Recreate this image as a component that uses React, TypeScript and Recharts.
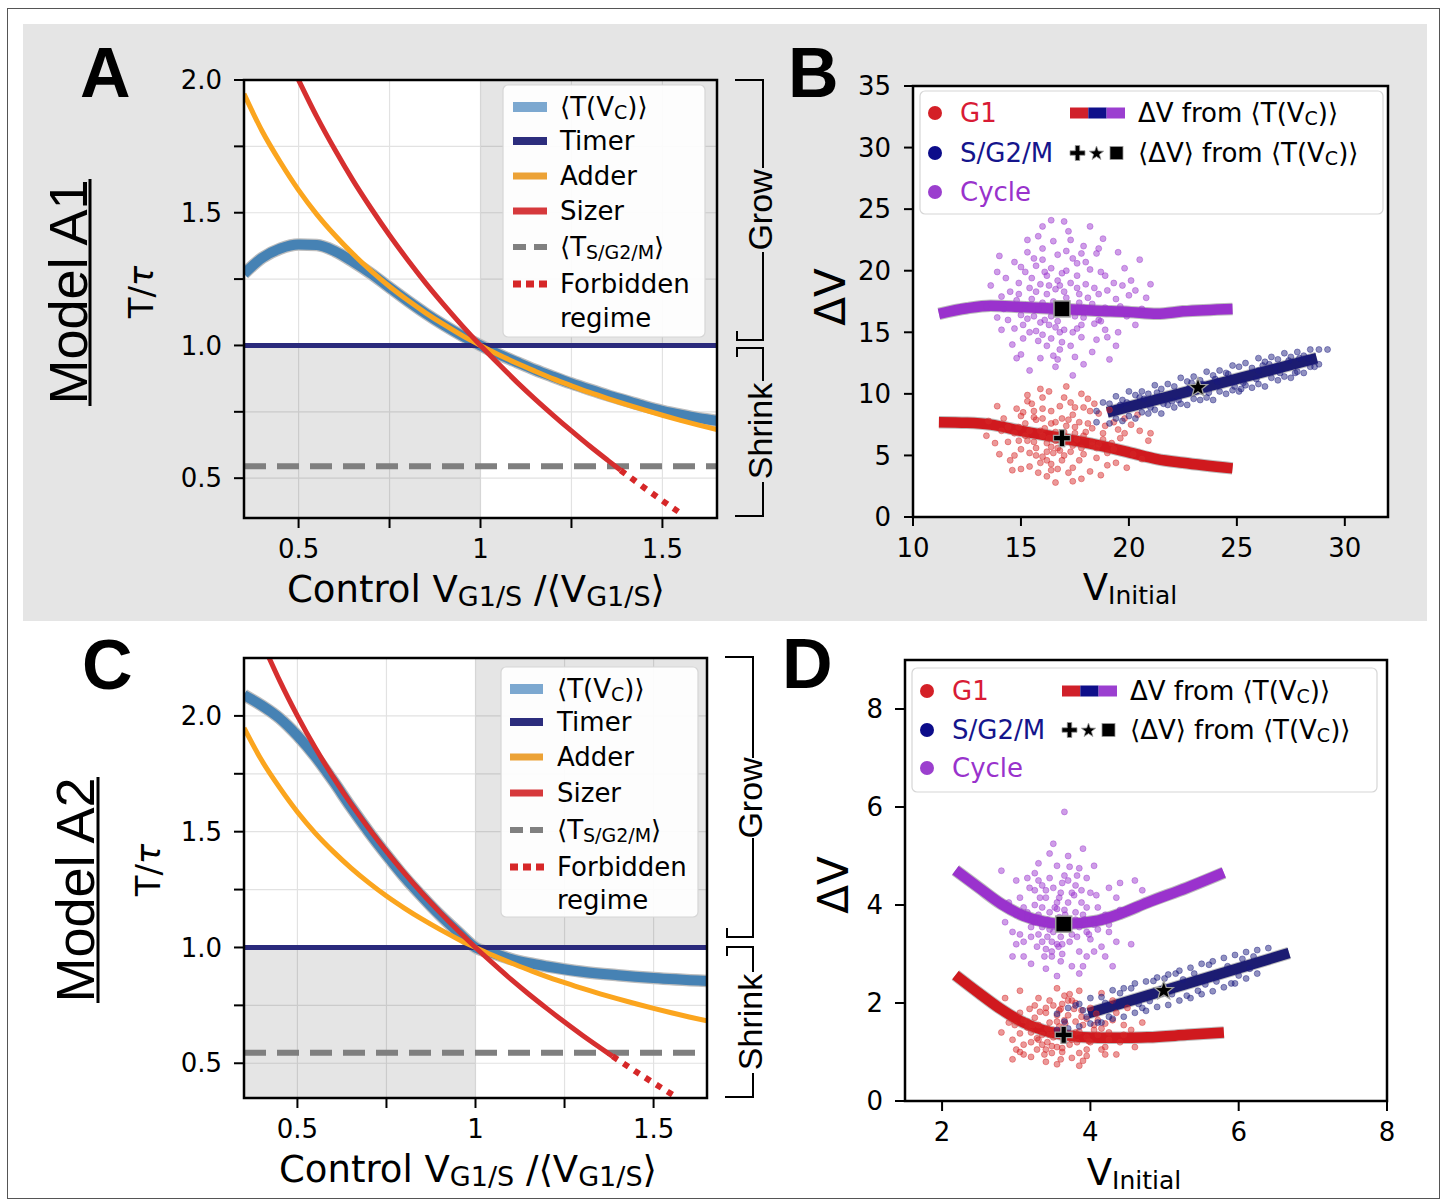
import React from 'react';
import { ComposedChart, Line, Scatter, XAxis, YAxis, CartesianGrid, ReferenceArea } from 'recharts';

type Pt = [number, number];

const DEJAVU = "'DejaVu Sans', sans-serif";
const ARIAL = "'Liberation Sans', Arial, sans-serif";

// ---------- ticks ----------
const T_X_TICKS = [0.5, 0.75, 1, 1.25, 1.5];
const T_Y_TICKS = [0.5, 0.75, 1, 1.25, 1.5, 1.75, 2];
const T_X_LABELS: Record<string, string> = { '0.5': '0.5', '1': '1', '1.5': '1.5' };
const T_Y_LABELS: Record<string, string> = { '0.5': '0.5', '1': '1.0', '1.5': '1.5', '2': '2.0' };
const B_X_TICKS = [10, 15, 20, 25, 30];
const B_Y_TICKS = [0, 5, 10, 15, 20, 25, 30, 35];
const D_X_TICKS = [2, 4, 6, 8];
const D_Y_TICKS = [0, 2, 4, 6, 8];

// ---------- panels A / C : T/tau vs control ----------
const TIMER: Pt[] = [[0.35, 1], [1.65, 1]];
const T_SG2M: Pt[] = [[0.35, 0.545], [1.65, 0.545]];
const ADDER: Pt[] = [
  [0.35, 1.948], [0.4, 1.807], [0.45, 1.69], [0.5, 1.585], [0.55, 1.494], [0.6, 1.415], [0.65, 1.344],
  [0.7, 1.28], [0.75, 1.222], [0.8, 1.17], [0.85, 1.122], [0.9, 1.078], [0.95, 1.037], [1.0, 1.0],
  [1.05, 0.965], [1.1, 0.933], [1.15, 0.903], [1.2, 0.874], [1.25, 0.848], [1.3, 0.823], [1.35, 0.8],
  [1.4, 0.778], [1.45, 0.757], [1.5, 0.737], [1.55, 0.718], [1.6, 0.7], [1.65, 0.683],
];
const A_TVC: Pt[] = [
  [0.35, 1.27], [0.4, 1.33], [0.45, 1.365], [0.5, 1.38], [0.55, 1.378], [0.6, 1.355], [0.65, 1.315],
  [0.7, 1.27], [0.75, 1.218], [0.8, 1.168], [0.85, 1.12], [0.9, 1.076], [0.95, 1.036], [1.0, 1.0],
  [1.05, 0.967], [1.1, 0.937], [1.15, 0.908], [1.2, 0.882], [1.25, 0.857], [1.3, 0.834], [1.35, 0.812],
  [1.4, 0.792], [1.45, 0.772], [1.5, 0.754], [1.55, 0.739], [1.6, 0.726], [1.65, 0.716],
];
const A_SIZER: Pt[] = [
  [0.5, 2.0], [0.55, 1.862], [0.6, 1.737], [0.65, 1.621], [0.7, 1.515], [0.75, 1.415], [0.8, 1.322],
  [0.85, 1.234], [0.9, 1.152], [0.95, 1.074], [1.0, 1.0], [1.05, 0.93], [1.1, 0.862], [1.15, 0.798],
  [1.2, 0.737], [1.25, 0.678], [1.3, 0.621], [1.35, 0.567], [1.385, 0.53],
];
const A_FORBIDDEN: Pt[] = [[1.385, 0.53], [1.45, 0.464], [1.5, 0.415], [1.55, 0.368]];

const C_TVC: Pt[] = [
  [0.35, 2.09], [0.4, 2.045], [0.45, 1.99], [0.5, 1.915], [0.55, 1.825], [0.6, 1.72], [0.65, 1.607],
  [0.7, 1.5], [0.75, 1.4], [0.8, 1.305], [0.85, 1.22], [0.9, 1.14], [0.95, 1.068], [1.0, 1.0],
  [1.05, 0.975], [1.1, 0.95], [1.15, 0.932], [1.2, 0.918], [1.3, 0.895], [1.4, 0.88], [1.5, 0.868],
  [1.65, 0.855],
];
const C_SIZER: Pt[] = [
  [0.42, 2.252], [0.45, 2.152], [0.5, 2.0], [0.55, 1.862], [0.6, 1.737], [0.65, 1.621], [0.7, 1.515],
  [0.75, 1.415], [0.8, 1.322], [0.85, 1.234], [0.9, 1.152], [0.95, 1.074], [1.0, 1.0], [1.05, 0.93],
  [1.1, 0.862], [1.15, 0.798], [1.2, 0.737], [1.25, 0.678], [1.3, 0.621], [1.35, 0.567], [1.385, 0.53],
];
const C_FORBIDDEN: Pt[] = [[1.385, 0.53], [1.45, 0.464], [1.5, 0.415], [1.56, 0.358]];

// ---------- panel B : dV vs V_initial ----------
const B_CYCLE_LINE: Pt[] = [
  [11.2, 16.5], [12.5, 16.95], [13.6, 17.15], [15.0, 17.05], [16.9, 16.9], [18.5, 16.75], [20.0, 16.65],
  [21.3, 16.5], [22.5, 16.7], [24.8, 16.9],
];
const B_G1_LINE: Pt[] = [
  [11.2, 7.7], [12.5, 7.65], [13.6, 7.5], [15.0, 7.0], [16.9, 6.4], [18.5, 5.85], [20.0, 5.25],
  [21.3, 4.7], [22.5, 4.4], [24.8, 3.95],
];
const B_SG2M_LINE: Pt[] = [[19.0, 8.5], [28.7, 12.9]];
const B_PLUS: Pt[] = [[16.9, 6.4]];
const B_STAR: Pt[] = [[23.2, 10.5]];
const B_SQUARE: Pt[] = [[16.9, 16.9]];
const B_CYCLE_PTS: Pt[] = [
  [16.9, 17.2], [16.2, 18.1], [17.5, 16.3], [15.8, 16.9], [18.1, 17.8], [16.6, 15.4], [17.3, 19.0], [15.4, 18.6], [18.6, 16.0], [16.0, 14.8],
  [17.8, 14.6], [15.1, 15.6], [19.0, 18.4], [16.4, 20.2], [17.6, 20.6], [14.8, 17.6], [18.9, 15.2], [16.8, 13.6], [15.6, 21.0], [17.1, 21.6],
  [14.3, 19.4], [19.6, 17.1], [15.9, 12.9], [18.3, 13.4], [13.9, 16.2], [20.1, 19.2], [16.5, 22.4], [17.9, 22.0], [14.6, 14.0], [19.4, 13.9],
  [15.2, 19.9], [18.7, 19.9], [16.1, 16.0], [17.0, 18.3], [16.7, 19.2], [15.5, 17.7], [18.0, 18.9], [17.4, 15.0], [16.3, 17.0], [17.7, 17.4],
  [15.0, 16.4], [18.4, 15.7], [16.9, 14.2], [15.7, 15.1], [19.2, 16.6], [14.5, 18.3], [17.2, 23.2], [16.0, 23.6], [15.3, 22.5], [18.5, 21.4],
  [20.5, 20.9], [13.6, 18.8], [14.1, 15.2], [20.3, 15.6], [16.6, 12.2], [17.9, 12.4], [15.0, 13.2], [19.8, 20.2], [13.4, 17.1], [20.8, 17.8],
  [16.4, 24.1], [18.2, 23.6], [15.4, 11.9], [17.4, 11.5], [19.1, 12.8], [14.0, 21.2], [21.0, 18.9], [14.7, 20.7], [18.8, 22.6], [16.8, 16.6],
  [17.6, 18.6], [16.2, 19.6], [15.9, 18.9], [17.1, 20.0], [18.2, 16.8], [15.3, 16.1], [16.7, 15.9], [17.3, 13.9], [19.3, 19.0], [14.9, 19.0],
  [15.7, 20.4], [18.6, 18.1], [16.0, 21.8], [17.8, 15.6], [14.2, 16.9], [20.0, 18.0], [16.5, 13.1], [18.0, 20.7], [15.1, 14.5], [19.5, 15.0],
  [16.5, 17.5], [17.2, 16.6], [16.0, 17.4], [17.9, 16.2], [16.8, 18.8], [15.6, 16.3], [18.4, 18.6], [16.3, 15.6], [17.6, 19.6], [15.2, 17.2],
  [17.0, 15.2], [18.9, 17.0], [16.1, 19.9], [15.8, 14.3], [18.5, 14.4], [17.4, 21.0], [14.9, 18.1], [19.7, 18.8], [16.7, 21.3], [15.5, 19.4],
  [17.9, 17.0], [16.4, 16.3], [17.1, 17.8], [15.9, 15.8], [18.7, 15.9], [16.9, 19.8], [15.0, 20.3], [18.2, 20.1], [17.5, 13.0], [16.2, 13.9],
  [19.9, 16.3], [14.4, 16.0], [16.6, 18.5], [17.7, 18.1], [15.4, 15.0], [18.9, 19.6], [16.0, 20.9], [17.3, 22.5], [14.7, 15.3], [19.4, 17.7],
  [16.8, 15.0], [17.4, 16.9], [15.7, 18.3], [18.3, 17.3], [16.4, 14.5], [17.8, 21.4], [15.3, 21.5], [19.0, 14.6], [14.1, 17.9], [20.3, 18.4],
  [16.7, 12.8], [17.0, 24.0], [15.8, 22.8], [18.6, 21.8], [13.9, 19.9], [20.6, 16.9], [14.8, 12.9], [19.5, 21.5], [16.3, 18.8], [17.6, 15.3],
];
const B_G1_PTS: Pt[] = [
  [16.8, 6.5], [16.1, 7.2], [17.4, 5.8], [15.6, 6.1], [18.0, 6.9], [16.5, 5.2], [17.2, 7.9], [15.2, 7.6], [18.5, 5.6], [16.0, 4.9],
  [17.7, 4.6], [15.0, 5.5], [18.9, 7.4], [16.4, 8.6], [17.5, 8.9], [14.7, 6.8], [19.0, 5.2], [16.7, 3.9], [15.5, 9.2], [17.0, 9.7],
  [14.2, 8.0], [19.6, 6.4], [15.8, 3.6], [18.2, 3.7], [13.8, 6.0], [20.1, 7.5], [16.3, 10.2], [17.8, 10.0], [14.5, 4.6], [19.4, 4.4],
  [15.1, 8.5], [18.6, 8.4], [16.2, 6.0], [17.0, 6.9], [16.6, 7.7], [15.4, 7.0], [18.1, 7.6], [17.3, 5.3], [16.3, 6.4], [17.6, 6.3],
  [14.9, 6.2], [18.3, 5.8], [16.9, 4.6], [15.7, 5.0], [19.2, 6.0], [14.4, 7.3], [17.1, 10.6], [15.9, 10.4], [15.3, 9.9], [18.4, 9.2],
  [20.4, 8.3], [13.5, 7.8], [14.0, 5.1], [20.2, 5.1], [16.6, 2.8], [17.8, 3.1], [15.0, 3.9], [19.8, 8.0], [13.4, 6.6], [20.9, 6.2],
  [16.0, 8.0], [17.5, 7.3], [15.6, 8.1], [18.8, 6.8], [16.7, 5.6], [17.9, 5.1], [15.2, 6.6], [16.4, 4.3], [19.3, 7.7], [14.8, 8.8],
  [20.6, 4.7], [21.0, 6.8], [13.9, 9.0], [18.7, 3.4], [16.2, 3.3], [17.4, 2.9], [19.9, 4.0], [14.6, 3.8], [18.1, 9.6], [15.4, 4.1],
  [16.6, 6.9], [17.1, 6.1], [16.0, 6.6], [17.8, 5.6], [16.4, 7.6], [15.7, 5.6], [18.3, 7.2], [16.2, 5.3], [17.4, 8.3], [15.3, 6.2],
  [17.0, 5.0], [18.8, 6.3], [16.0, 8.8], [15.9, 4.4], [18.5, 4.8], [17.3, 9.3], [14.9, 7.3], [19.5, 7.1], [16.8, 9.0], [15.6, 8.6],
  [17.9, 6.6], [16.4, 5.7], [17.1, 7.4], [15.9, 7.0], [18.6, 5.9], [16.9, 8.0], [15.0, 8.2], [18.2, 8.6], [17.4, 4.0], [16.2, 4.6],
  [19.8, 6.8], [14.4, 6.1], [16.6, 6.2], [17.7, 7.7], [15.4, 5.2], [19.1, 8.7], [16.0, 9.7], [17.2, 3.6], [14.7, 5.0], [19.3, 5.5],
  [16.8, 5.4], [17.5, 6.8], [15.7, 7.9], [18.3, 6.1], [16.4, 3.8], [17.9, 8.9], [15.3, 9.4], [19.0, 4.2], [14.1, 7.0], [20.5, 7.0],
];
const B_SG2M_PTS: Pt[] = [
  [18.5, 8.6], [18.5, 7.7], [18.8, 9.3], [19.1, 7.6], [19.1, 9.2], [19.4, 9.8], [19.4, 8.0], [19.7, 9.5], [19.7, 7.8], [20.0, 10.2],
  [20.0, 8.2], [20.3, 9.9], [20.3, 8.0], [20.6, 10.2], [20.6, 8.5], [20.9, 10.0], [20.9, 8.4], [21.2, 10.7], [21.2, 8.7], [21.5, 10.4],
  [21.5, 8.4], [21.8, 10.8], [21.8, 9.1], [22.1, 10.6], [22.1, 8.9], [22.4, 11.3], [22.4, 9.2], [22.7, 11.0], [22.7, 9.1], [23.0, 11.4],
  [23.0, 9.6], [23.3, 11.1], [23.3, 9.5], [23.6, 11.8], [23.6, 9.7], [23.9, 11.5], [23.9, 9.5], [24.2, 11.9], [24.2, 10.2], [24.5, 11.7],
  [24.5, 10.0], [24.8, 12.3], [24.8, 10.3], [25.1, 12.2], [25.1, 10.2], [25.4, 12.5], [25.4, 10.7], [25.7, 12.1], [25.7, 10.5], [26.0, 12.9],
  [26.0, 10.8], [26.3, 12.6], [26.3, 10.6], [26.6, 13.0], [26.6, 11.3], [26.9, 12.8], [26.9, 11.1], [27.2, 13.3], [27.2, 11.4], [27.5, 13.0],
  [27.5, 11.3], [27.8, 13.4], [27.8, 11.8], [28.1, 13.1], [28.1, 11.7], [28.4, 13.6], [28.4, 12.2], [28.8, 13.6], [28.8, 12.4], [29.2, 13.6],
  [20.5, 9.7], [21.3, 10.1], [22.0, 9.4], [22.9, 10.9], [23.7, 10.1], [24.6, 11.6], [25.3, 10.9], [26.2, 12.3], [27.0, 11.7], [27.9, 12.9],
  [19.6, 9.1], [21.0, 8.9], [24.0, 11.2], [25.9, 11.2], [27.4, 12.7], [19.9, 9.3], [21.6, 9.2], [22.3, 9.5], [23.4, 10.8], [24.1, 11.0],
  [25.2, 10.4], [26.0, 11.9], [26.8, 12.2], [27.7, 11.7], [28.6, 12.2], [20.7, 9.6], [22.8, 10.5], [24.9, 10.6], [26.5, 12.4], [28.3, 12.9],
];

// ---------- panel D ----------
const D_CYCLE_LINE: Pt[] = [
  [2.18, 4.71], [2.5, 4.35], [2.8, 4.02], [3.1, 3.78], [3.4, 3.65], [3.64, 3.61], [4.1, 3.68],
  [4.4, 3.82], [4.77, 4.05], [5.3, 4.35], [5.8, 4.66],
];
const D_G1_LINE: Pt[] = [
  [2.18, 2.57], [2.5, 2.2], [2.8, 1.87], [3.1, 1.6], [3.4, 1.43], [3.64, 1.35], [4.1, 1.29],
  [4.5, 1.29], [4.77, 1.3], [5.3, 1.35], [5.8, 1.4],
];
const D_SG2M_LINE: Pt[] = [[3.97, 1.79], [6.68, 3.02]];
const D_PLUS: Pt[] = [[3.64, 1.35]];
const D_STAR: Pt[] = [[4.99, 2.25]];
const D_SQUARE: Pt[] = [[3.64, 3.61]];
const D_CYCLE_PTS: Pt[] = [
  [3.6, 3.65], [3.45, 3.85], [3.75, 3.4], [3.35, 3.55], [3.9, 3.8], [3.55, 3.2], [3.7, 4.05], [3.25, 4.0], [4.0, 3.3], [3.4, 3.1],
  [3.85, 3.05], [3.2, 3.35], [4.1, 3.95], [3.5, 4.35], [3.8, 4.4], [3.15, 3.75], [4.15, 3.15], [3.6, 2.85], [3.3, 4.5], [3.65, 4.6],
  [3.05, 4.15], [4.25, 3.6], [3.4, 2.7], [3.9, 2.75], [2.95, 3.45], [4.35, 4.15], [3.55, 4.8], [3.85, 4.75], [3.1, 2.95], [4.2, 2.95],
  [3.25, 4.3], [4.0, 4.25], [3.45, 3.5], [3.65, 3.9], [3.58, 4.15], [3.3, 3.8], [3.88, 4.05], [3.72, 3.25], [3.5, 3.6], [3.8, 3.7],
  [3.2, 3.55], [3.95, 3.45], [3.62, 3.0], [3.35, 3.25], [4.1, 3.5], [3.1, 3.95], [3.7, 5.0], [3.45, 5.05], [3.3, 4.85], [3.95, 4.55],
  [4.4, 4.45], [2.9, 4.05], [3.0, 3.2], [4.35, 3.25], [3.55, 2.55], [3.85, 2.6], [3.2, 2.8], [4.25, 4.35], [2.85, 3.65], [4.5, 3.85],
  [3.5, 5.25], [3.9, 5.15], [3.65, 5.9], [4.6, 4.5], [2.8, 4.7], [3.15, 4.55], [4.05, 4.8], [4.55, 3.2], [2.95, 2.95], [4.3, 2.75],
  [3.75, 4.25], [3.4, 4.15], [3.52, 3.95], [3.85, 3.55], [3.25, 3.65], [4.05, 3.7], [3.6, 3.35], [3.35, 4.4], [4.7, 4.3], [3.0, 4.5],
  [3.58, 3.75], [3.68, 3.52], [3.42, 3.7], [3.82, 3.35], [3.55, 4.05], [3.3, 3.4], [3.95, 3.95], [3.48, 3.25], [3.78, 4.2], [3.22, 3.72],
  [3.62, 3.2], [4.05, 3.6], [3.4, 4.3], [3.38, 2.95], [3.95, 2.95], [3.7, 4.5], [3.15, 3.85], [4.2, 3.8], [3.62, 4.45], [3.32, 4.15],
  [3.85, 3.6], [3.5, 3.45], [3.66, 3.8], [3.42, 3.35], [3.98, 3.4], [3.6, 4.25], [3.18, 4.35], [3.88, 4.3], [3.75, 2.75], [3.48, 2.95],
  [4.25, 3.45], [3.05, 3.4], [3.55, 3.92], [3.8, 3.85], [3.28, 3.15], [4.08, 4.2], [3.45, 4.55], [3.72, 4.78], [3.1, 3.25], [4.15, 3.75],
  [3.57, 3.15], [3.72, 3.58], [3.35, 3.95], [3.92, 3.7], [3.48, 3.05], [3.82, 4.6], [3.25, 4.65], [4.05, 3.05], [3.0, 3.8], [4.4, 3.9],
];
const D_G1_PTS: Pt[] = [
  [3.6, 1.45], [3.45, 1.6], [3.75, 1.25], [3.35, 1.35], [3.9, 1.55], [3.55, 1.1], [3.7, 1.75], [3.25, 1.7], [4.0, 1.2], [3.4, 1.05],
  [3.85, 0.98], [3.2, 1.2], [4.1, 1.65], [3.5, 1.95], [3.8, 2.0], [3.15, 1.5], [4.15, 1.05], [3.6, 0.85], [3.3, 2.1], [3.65, 2.15],
  [3.05, 1.8], [4.25, 1.4], [3.4, 0.8], [3.9, 0.82], [2.95, 1.25], [4.35, 1.8], [3.55, 2.3], [3.85, 2.25], [3.1, 0.95], [4.2, 0.95],
  [3.25, 1.95], [4.0, 1.9], [3.45, 1.35], [3.65, 1.65], [3.58, 1.85], [3.3, 1.55], [3.88, 1.72], [3.72, 1.15], [3.5, 1.45], [3.8, 1.4],
  [3.2, 1.4], [3.95, 1.3], [3.62, 1.0], [3.35, 1.15], [4.1, 1.35], [3.1, 1.65], [4.4, 1.2], [2.9, 1.6], [3.0, 1.05], [4.45, 1.55],
  [3.55, 0.75], [3.85, 0.72], [3.2, 0.9], [4.3, 2.05], [2.8, 1.4], [4.55, 1.45], [4.6, 1.1], [2.85, 2.1], [4.7, 1.6], [3.05, 2.25],
  [4.15, 2.2], [4.5, 1.9], [3.75, 2.05], [3.4, 1.8], [3.95, 1.05], [3.28, 1.28], [4.05, 1.55], [3.68, 1.3], [2.95, 0.85], [4.35, 0.95],
  [3.58, 1.52], [3.68, 1.32], [3.42, 1.48], [3.82, 1.2], [3.55, 1.75], [3.3, 1.25], [3.95, 1.68], [3.48, 1.12], [3.78, 1.88], [3.22, 1.55],
  [3.62, 1.08], [4.05, 1.45], [3.4, 1.9], [3.38, 0.95], [3.95, 0.92], [3.7, 2.05], [3.15, 1.62], [4.2, 1.58], [3.62, 1.98], [3.32, 1.82],
  [3.85, 1.42], [3.5, 1.3], [3.66, 1.58], [3.42, 1.2], [3.98, 1.22], [3.6, 1.88], [3.18, 1.88], [3.88, 1.85], [3.75, 0.88], [3.48, 0.98],
  [4.25, 1.25], [3.05, 1.38], [3.55, 1.62], [3.8, 1.62], [3.28, 1.05], [4.08, 1.78], [3.45, 2.05], [3.72, 2.18], [3.1, 1.15], [4.15, 1.48],
  [4.3, 1.65], [4.45, 1.35], [2.98, 1.55], [4.2, 1.1], [3.05, 1.0],
];
const D_SG2M_PTS: Pt[] = [
  [3.55, 1.78], [3.55, 1.45], [3.7, 1.9], [3.7, 1.48], [3.85, 1.98], [3.85, 1.52], [4.0, 2.1], [4.0, 1.58], [4.15, 2.12], [4.15, 1.6],
  [4.3, 2.26], [4.3, 1.68], [4.45, 2.3], [4.45, 1.72], [4.6, 2.4], [4.6, 1.8], [4.75, 2.44], [4.75, 1.84], [4.9, 2.52], [4.9, 1.92],
  [5.05, 2.58], [5.05, 1.96], [5.2, 2.66], [5.2, 2.05], [5.35, 2.72], [5.35, 2.1], [5.5, 2.8], [5.5, 2.18], [5.65, 2.85], [5.65, 2.24],
  [5.8, 2.92], [5.8, 2.32], [5.95, 2.98], [5.95, 2.4], [6.1, 3.04], [6.1, 2.5], [6.25, 3.08], [6.25, 2.6], [6.4, 3.12],
  [3.8, 1.95], [4.1, 1.6], [4.4, 2.2], [4.7, 1.9], [5.0, 2.5], [5.3, 2.15], [5.6, 2.78], [5.9, 2.4], [6.2, 2.95], [4.25, 1.72],
  [4.85, 2.45], [5.45, 2.25], [6.05, 2.9], [5.15, 2.6], [4.55, 2.3], [3.65, 1.62], [3.95, 1.72], [4.35, 1.98], [4.8, 2.04], [5.25, 2.48],
  [5.7, 2.44], [6.0, 2.56], [4.65, 1.98], [5.4, 2.6], [5.85, 2.75], [4.2, 2.0], [5.1, 2.18], [5.55, 2.38], [6.15, 2.7], [3.9, 1.85],
];

// ---------- colours ----------
const COL_BLUE = '#4682b4';
const COL_TIMER = '#2a2a7c';
const COL_ADDER = '#fba51e';
const COL_SIZER = '#d62f2f';
const COL_GRAY = '#7f7f7f';
const COL_RED = '#d0191e';
const COL_NAVY = '#1c1c72';
const COL_PURPLE = '#9a32cd';
const COL_HALO = '#bdbdbd';

// plot rectangles [left, top, width, height] in page px
const RA: [number, number, number, number] = [244, 80, 473, 438];
const RB: [number, number, number, number] = [913, 86, 475, 431];
const RC: [number, number, number, number] = [244, 658, 463, 440];
const RD: [number, number, number, number] = [905, 660, 482, 441];
const PLOTS = [RA, RB, RC, RD];

const xy = (arr: Pt[]) => arr.map(([x, y]) => ({ x, y }));

const dotShape = (color: string) => (p: any) => (
  <circle cx={p.cx} cy={p.cy} r={3} fill={color} fillOpacity={0.48} stroke={color} strokeOpacity={0.6} strokeWidth={0.7} />
);
const squareShape = (s: number) => (p: any) => (
  <rect x={p.cx - s / 2} y={p.cy - s / 2} width={s} height={s} fill="#000" stroke="#a0a0a0" strokeWidth={1.5} />
);
const plusPath = (cx: number, cy: number, s: number, t: number) => {
  const a = (s - t) / 2;
  return `M${cx - t / 2},${cy - s / 2} h${t} v${a} h${a} v${t} h${-a} v${a} h${-t} v${-a} h${-a} v${-t} h${a} z`;
};
const plusShape = (s: number, t: number) => (p: any) => (
  <path d={plusPath(p.cx, p.cy, s, t)} fill="#000" stroke="#a0a0a0" strokeWidth={1.3} />
);
const starPoints = (cx: number, cy: number, R: number, r: number) => {
  const pts: string[] = [];
  for (let i = 0; i < 10; i++) {
    const ang = -Math.PI / 2 + (i * Math.PI) / 5;
    const rad = i % 2 === 0 ? R : r;
    pts.push(`${(cx + rad * Math.cos(ang)).toFixed(2)},${(cy + rad * Math.sin(ang)).toFixed(2)}`);
  }
  return pts.join(' ');
};
const starShape = (R: number) => (p: any) => (
  <polygon points={starPoints(p.cx, p.cy, R, R * 0.42)} fill="#000" stroke="#a0a0a0" strokeWidth={1.3} />
);

const L = (data: Pt[], stroke: string, width: number, extra: any = {}) => (
  <Line
    data={xy(data)}
    dataKey="y"
    type="monotone"
    stroke={stroke}
    strokeWidth={width}
    dot={false}
    activeDot={false}
    isAnimationActive={false}
    strokeLinejoin="round"
    {...extra}
  />
);

function Panel(props: any) {
  const { rect, xDomain, yDomain, xTicks, yTicks, xFmt, yFmt, tickSize, xMargin, yMargin, grid, children } = props;
  const [px, py, pw, ph] = rect;
  const tickStyle = { fontSize: 26, fill: '#000', fontFamily: DEJAVU };
  return (
    <div style={{ position: 'absolute', left: px - 90, top: py - 22 }}>
      <ComposedChart width={pw + 106} height={ph + 82} margin={{ top: 22, right: 16, bottom: 0, left: 30 }}>
        {grid ? <CartesianGrid stroke="#e2e2e2" strokeWidth={1.2} /> : null}
        <XAxis
          type="number"
          dataKey="x"
          domain={xDomain}
          ticks={xTicks}
          interval={0}
          allowDataOverflow
          tickFormatter={xFmt}
          height={60}
          tickSize={tickSize}
          tickMargin={xMargin}
          axisLine={false}
          tickLine={{ stroke: '#000', strokeWidth: 2 }}
          tick={tickStyle}
        />
        <YAxis
          type="number"
          dataKey="y"
          domain={yDomain}
          ticks={yTicks}
          interval={0}
          allowDataOverflow
          tickFormatter={yFmt}
          width={60}
          tickSize={tickSize}
          tickMargin={yMargin}
          axisLine={false}
          tickLine={{ stroke: '#000', strokeWidth: 2 }}
          tick={tickStyle}
        />
        {children}
      </ComposedChart>
    </div>
  );
}

const fmtTX = (v: number) => T_X_LABELS[String(v)] ?? '';
const fmtTY = (v: number) => T_Y_LABELS[String(v)] ?? '';
const fmtNum = (v: number) => String(v);

function TimePanel({ rect, yTop, tvc, sizer, forbidden }: any) {
  return (
    <Panel rect={rect} xDomain={[0.35, 1.65]} yDomain={[0.35, yTop]} xTicks={T_X_TICKS} yTicks={T_Y_TICKS}
      xFmt={fmtTX} yFmt={fmtTY} tickSize={10} xMargin={12} yMargin={12} grid>
      <ReferenceArea x1={0.35} x2={1} y1={0.35} y2={1} fill="#000" fillOpacity={0.1} stroke="none" ifOverflow="hidden" />
      <ReferenceArea x1={1} x2={1.65} y1={1} y2={yTop} fill="#000" fillOpacity={0.1} stroke="none" ifOverflow="hidden" />
      {L(tvc, COL_HALO, 12.5)}
      {L(tvc, COL_BLUE, 10)}
      {L(T_SG2M, COL_GRAY, 6, { type: 'linear', strokeDasharray: '22 11' })}
      {L(TIMER, COL_TIMER, 5, { type: 'linear' })}
      {L(ADDER, COL_ADDER, 5)}
      {L(sizer, COL_SIZER, 5)}
      {L(forbidden, '#d62728', 6, { type: 'linear', strokeDasharray: '6 7' })}
    </Panel>
  );
}

function VolPanel({ rect, xDomain, yDomain, xTicks, yTicks, tickSize, xMargin, yMargin, cyc, g1, sg, cycL, g1L, sgL, plus, star, square }: any) {
  return (
    <Panel rect={rect} xDomain={xDomain} yDomain={yDomain} xTicks={xTicks} yTicks={yTicks}
      xFmt={fmtNum} yFmt={fmtNum} tickSize={tickSize} xMargin={xMargin} yMargin={yMargin} grid={false}>
      <Scatter data={xy(cyc)} shape={dotShape('#9932cc')} isAnimationActive={false} />
      <Scatter data={xy(g1)} shape={dotShape('#d62728')} isAnimationActive={false} />
      <Scatter data={xy(sg)} shape={dotShape('#1a1a7e')} isAnimationActive={false} />
      {L(cycL, COL_HALO, 12.5)}
      {L(cycL, COL_PURPLE, 10.5)}
      {L(g1L, COL_HALO, 12.5)}
      {L(g1L, COL_RED, 10.5)}
      {L(sgL, COL_HALO, 12.5, { type: 'linear' })}
      {L(sgL, COL_NAVY, 10.5, { type: 'linear' })}
      <Scatter data={xy(square)} shape={squareShape(16)} isAnimationActive={false} />
      <Scatter data={xy(plus)} shape={plusShape(17, 5.5)} isAnimationActive={false} />
      <Scatter data={xy(star)} shape={starShape(10)} isAnimationActive={false} />
    </Panel>
  );
}

function TLegend({ box, hx, tx, rows }: any) {
  const [bx, by, bw, bh] = box;
  const [x1, x2] = hx;
  const w = x2 - x1;
  const hy = (i: number) => rows[i] - 9;
  const ts = { fontFamily: DEJAVU, fontSize: 26, fill: '#000' } as any;
  return (
    <g>
      <rect x={bx} y={by} width={bw} height={bh} rx={5} fill="#fff" fillOpacity={0.92} stroke="#d6d6d6" strokeWidth={1.2} />
      <rect x={x1} y={hy(0) - 5} width={w} height={10} fill="#7ca8d0" />
      <rect x={x1} y={hy(1) - 4} width={w} height={8} fill="#2c2d7d" />
      <rect x={x1} y={hy(2) - 3.5} width={w} height={7} fill="#eca236" />
      <rect x={x1} y={hy(3) - 3.5} width={w} height={7} fill="#d6393c" />
      <rect x={x1} y={hy(4) - 3} width={13} height={6} fill="#808080" />
      <rect x={x2 - 13} y={hy(4) - 3} width={13} height={6} fill="#808080" />
      <rect x={x1} y={hy(5) - 3.5} width={8} height={7} fill="#d62728" />
      <rect x={x1 + 13} y={hy(5) - 3.5} width={8} height={7} fill="#d62728" />
      <rect x={x1 + 26} y={hy(5) - 3.5} width={8} height={7} fill="#d62728" />
      <text x={tx} y={rows[0]} {...ts}>⟨T(V<tspan fontSize={19} dy={3}>C</tspan><tspan dy={-3}>)⟩</tspan></text>
      <text x={tx} y={rows[1]} {...ts}>Timer</text>
      <text x={tx} y={rows[2]} {...ts}>Adder</text>
      <text x={tx} y={rows[3]} {...ts}>Sizer</text>
      <text x={tx} y={rows[4]} {...ts}>⟨T<tspan fontSize={19} dy={3}>S/G2/M</tspan><tspan dy={-3}>⟩</tspan></text>
      <text x={tx} y={rows[5]} {...ts}>Forbidden</text>
      <text x={tx} y={rows[6]} {...ts}>regime</text>
    </g>
  );
}

function VLegend({ box, dotX, tx, barX, tx2, rows }: any) {
  const [bx, by, bw, bh] = box;
  const ts = { fontFamily: DEJAVU, fontSize: 26 } as any;
  const cy = (i: number) => rows[i] - 9;
  return (
    <g>
      <rect x={bx} y={by} width={bw} height={bh} rx={5} fill="#fff" fillOpacity={0.95} stroke="#d6d6d6" strokeWidth={1.2} />
      <circle cx={dotX} cy={cy(0)} r={7} fill="#d42027" />
      <circle cx={dotX} cy={cy(1)} r={7} fill="#0c0c8a" />
      <circle cx={dotX} cy={cy(2)} r={7} fill="#9b3fce" />
      <text x={tx} y={rows[0]} {...ts} fill="#d81b35">G1</text>
      <text x={tx} y={rows[1]} {...ts} fill="#15158c">S/G2/M</text>
      <text x={tx} y={rows[2]} {...ts} fill="#9932cc">Cycle</text>
      <rect x={barX} y={cy(0) - 5.5} width={18.3} height={11} fill="#d0202a" />
      <rect x={barX + 18.3} y={cy(0) - 5.5} width={18.3} height={11} fill="#0f0f8a" />
      <rect x={barX + 36.6} y={cy(0) - 5.5} width={18.4} height={11} fill="#9b3fd0" />
      <path d={plusPath(barX + 7.5, cy(1), 15, 4.5)} fill="#000" stroke="#9a9a9a" strokeWidth={0.8} />
      <polygon points={starPoints(barX + 26.5, cy(1) + 0.5, 7.5, 3.1)} fill="#000" stroke="#9a9a9a" strokeWidth={0.8} />
      <rect x={barX + 40} y={cy(1) - 6.5} width={13} height={13} fill="#000" stroke="#9a9a9a" strokeWidth={0.8} />
      <text x={tx2} y={rows[0]} {...ts} fill="#000">ΔV from ⟨T(V<tspan fontSize={19} dy={3}>C</tspan><tspan dy={-3}>)⟩</tspan></text>
      <text x={tx2} y={rows[1]} {...ts} fill="#000">⟨ΔV⟩ from ⟨T(V<tspan fontSize={19} dy={3}>C</tspan><tspan dy={-3}>)⟩</tspan></text>
    </g>
  );
}

function Overlay() {
  const big = { fontFamily: ARIAL, fontWeight: 'bold', fontSize: 70, fill: '#000' } as any;
  const lab = { fontFamily: DEJAVU, fill: '#000' } as any;
  const br = { fill: 'none', stroke: '#000', strokeWidth: 2 } as any;
  return (
    <svg width={1447} height={1203} style={{ position: 'absolute', left: 0, top: 0, pointerEvents: 'none' }}>
      {PLOTS.map(([x, y, w, h], i) => (
        <rect key={i} x={x} y={y} width={w} height={h} fill="none" stroke="#000" strokeWidth={2.5} />
      ))}
      <text x={80} y={97} {...big}>A</text>
      <text x={788} y={97} {...big}>B</text>
      <text x={82} y={689} {...big}>C</text>
      <text x={782} y={688} {...big}>D</text>

      <text transform="translate(87,292) rotate(-90)" textAnchor="middle" fontFamily={ARIAL} fontSize={54}>Model A1</text>
      <line x1={90} y1={179} x2={90} y2={406} stroke="#000" strokeWidth={3} />
      <text transform="translate(94,890) rotate(-90)" textAnchor="middle" fontFamily={ARIAL} fontSize={54}>Model A2</text>
      <line x1={98} y1={777} x2={98} y2={1003} stroke="#000" strokeWidth={3} />

      <text transform="translate(153,292) rotate(-90)" textAnchor="middle" {...lab} fontSize={34}>T/<tspan fontStyle="italic">τ</tspan></text>
      <text transform="translate(160,870) rotate(-90)" textAnchor="middle" {...lab} fontSize={34}>T/<tspan fontStyle="italic">τ</tspan></text>

      <text x={476} y={602} textAnchor="middle" {...lab} fontSize={37}>Control V<tspan fontSize={27} dy={4}>G1/S</tspan><tspan dy={-4}> /⟨V</tspan><tspan fontSize={27} dy={4}>G1/S</tspan><tspan dy={-4}>⟩</tspan></text>
      <text x={468} y={1182} textAnchor="middle" {...lab} fontSize={37}>Control V<tspan fontSize={27} dy={4}>G1/S</tspan><tspan dy={-4}> /⟨V</tspan><tspan fontSize={27} dy={4}>G1/S</tspan><tspan dy={-4}>⟩</tspan></text>

      <text transform="translate(845,297) rotate(-90)" textAnchor="middle" {...lab} fontSize={42}>ΔV</text>
      <text transform="translate(848,885) rotate(-90)" textAnchor="middle" {...lab} fontSize={42}>ΔV</text>
      <text x={1130} y={600} textAnchor="middle" {...lab} fontSize={37}>V<tspan fontSize={25} dy={4}>Initial</tspan></text>
      <text x={1134} y={1185} textAnchor="middle" {...lab} fontSize={37}>V<tspan fontSize={25} dy={4}>Initial</tspan></text>

      {/* brackets A */}
      <path d="M735,80 H763 V168 M763,252 V340 H737 V331 M737,357 V348 H763 V381 M763,482 V516 H735" {...br} />
      <text transform="translate(772,210) rotate(-90)" textAnchor="middle" fontFamily={ARIAL} fontSize={34}>Grow</text>
      <text transform="translate(772,431) rotate(-90)" textAnchor="middle" fontFamily={ARIAL} fontSize={34}>Shrink</text>
      {/* brackets C */}
      <path d="M725,657 H753 V758 M753,838 V937 H727 V928 M727,956 V947 H753 V972 M753,1073 V1097 H725" {...br} />
      <text transform="translate(762,798) rotate(-90)" textAnchor="middle" fontFamily={ARIAL} fontSize={34}>Grow</text>
      <text transform="translate(762,1022) rotate(-90)" textAnchor="middle" fontFamily={ARIAL} fontSize={34}>Shrink</text>

      <TLegend box={[503, 85, 202, 252]} hx={[513, 547]} tx={560} rows={[116, 150, 185, 220, 256, 293, 327]} />
      <TLegend box={[501, 667, 197, 250]} hx={[510, 543]} tx={557} rows={[698, 731, 766, 802, 839, 876, 909]} />
      <VLegend box={[920, 91, 463, 123]} dotX={935} tx={960} barX={1070} tx2={1138} rows={[122, 162, 201]} />
      <VLegend box={[912, 668, 465, 124]} dotX={927} tx={952} barX={1062} tx2={1130} rows={[700, 739, 777]} />
    </svg>
  );
}

export default function App() {
  return (
    <div style={{ position: 'absolute', left: 0, top: 0, width: 1447, height: 1203, background: '#fff', overflow: 'hidden' }}>
      <div style={{ position: 'absolute', left: 7, top: 8, width: 1433, height: 1191, border: '1px solid #555', boxSizing: 'border-box' }} />
      <div style={{ position: 'absolute', left: 23, top: 24, width: 1404, height: 597, background: '#e5e5e5' }} />
      {PLOTS.map(([x, y, w, h], i) => (
        <div key={i} style={{ position: 'absolute', left: x, top: y, width: w, height: h, background: '#fff' }} />
      ))}
      <TimePanel rect={RA} yTop={2} tvc={A_TVC} sizer={A_SIZER} forbidden={A_FORBIDDEN} />
      <TimePanel rect={RC} yTop={2.25} tvc={C_TVC} sizer={C_SIZER} forbidden={C_FORBIDDEN} />
      <VolPanel rect={RB} xDomain={[10, 32]} yDomain={[0, 35]} xTicks={B_X_TICKS} yTicks={B_Y_TICKS}
        tickSize={9} xMargin={13} yMargin={13}
        cyc={B_CYCLE_PTS} g1={B_G1_PTS} sg={B_SG2M_PTS} cycL={B_CYCLE_LINE} g1L={B_G1_LINE} sgL={B_SG2M_LINE}
        plus={B_PLUS} star={B_STAR} square={B_SQUARE} />
      <VolPanel rect={RD} xDomain={[1.5, 8]} yDomain={[0, 9]} xTicks={D_X_TICKS} yTicks={D_Y_TICKS}
        tickSize={10} xMargin={12} yMargin={12}
        cyc={D_CYCLE_PTS} g1={D_G1_PTS} sg={D_SG2M_PTS} cycL={D_CYCLE_LINE} g1L={D_G1_LINE} sgL={D_SG2M_LINE}
        plus={D_PLUS} star={D_STAR} square={D_SQUARE} />
      <Overlay />
    </div>
  );
}
